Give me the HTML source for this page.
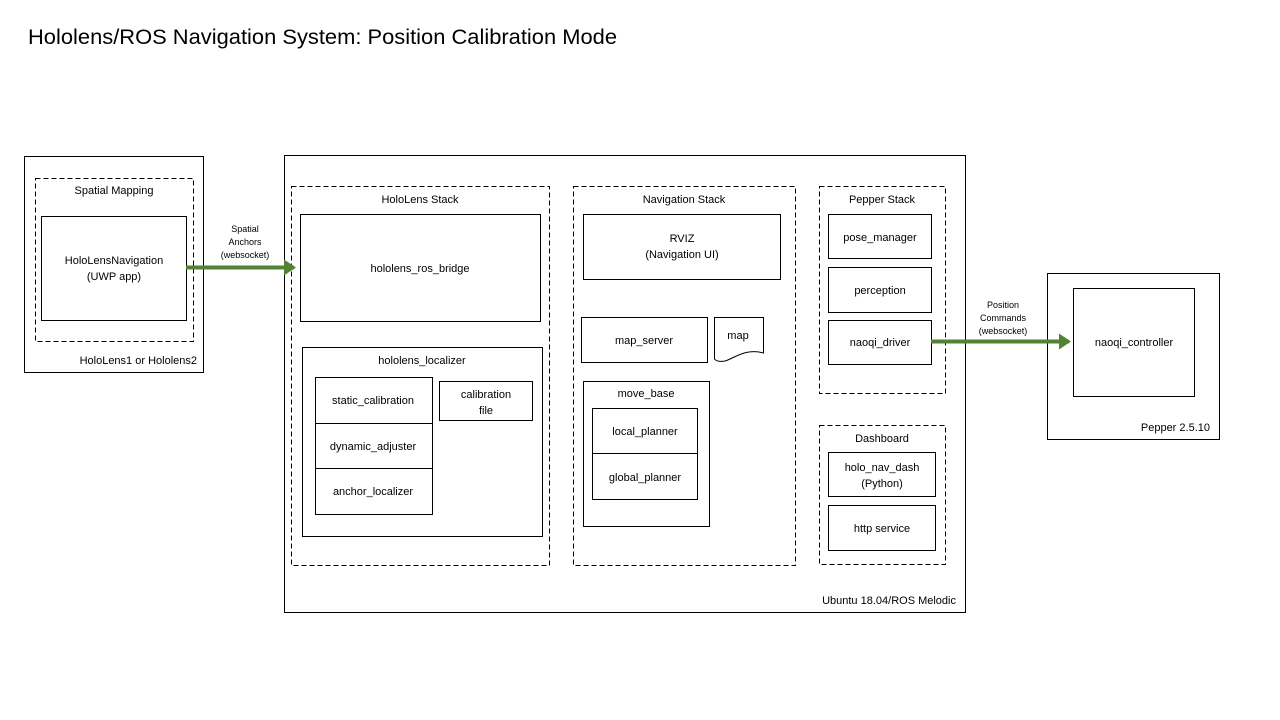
<!DOCTYPE html>
<html><head><meta charset="utf-8"><style>
html,body{margin:0;padding:0;background:#fff;}
svg{display:block;font-family:"Liberation Sans",sans-serif;}
text{font-size:11px;fill:#000;}
</style></head><body>
<svg width="1280" height="720" viewBox="0 0 1280 720">
<defs><marker id="ah" markerWidth="4" markerHeight="4" refX="2.5" refY="2" orient="auto" markerUnits="strokeWidth"><path d="M0,0 L3,2 L0,4 z" fill="#548235"/></marker></defs>
<text x="28" y="44" style="font-size:21px" textLength="589" lengthAdjust="spacingAndGlyphs">Hololens/ROS Navigation System:  Position Calibration Mode</text>
<g fill="none" stroke="#000" stroke-width="1">
<rect x="24.5" y="156.5" width="179" height="216"/>
<rect x="35.5" y="178.5" width="158" height="163" stroke-dasharray="5,3"/>
<rect x="41.5" y="216.5" width="145" height="104"/>
<rect x="284.5" y="155.5" width="681" height="457"/>
<rect x="291.5" y="186.5" width="258" height="379" stroke-dasharray="5,3"/>
<rect x="300.5" y="214.5" width="240" height="107"/>
<rect x="302.5" y="347.5" width="240" height="189"/>
<rect x="315.5" y="377.5" width="117" height="46"/>
<rect x="315.5" y="423.5" width="117" height="45"/>
<rect x="315.5" y="468.5" width="117" height="46"/>
<rect x="439.5" y="381.5" width="93" height="39"/>
<rect x="573.5" y="186.5" width="222" height="379" stroke-dasharray="5,3"/>
<rect x="583.5" y="214.5" width="197" height="65"/>
<rect x="581.5" y="317.5" width="126" height="45"/>
<path d="M714.5,317.5 H763.5 V353 C745,348 735,358 725,361 C720,362 716,361 714.5,359 Z"/>
<rect x="583.5" y="381.5" width="126" height="145"/>
<rect x="592.5" y="408.5" width="105" height="45"/>
<rect x="592.5" y="453.5" width="105" height="46"/>
<rect x="819.5" y="186.5" width="126" height="207" stroke-dasharray="5,3"/>
<rect x="828.5" y="214.5" width="103" height="44"/>
<rect x="828.5" y="267.5" width="103" height="45"/>
<rect x="828.5" y="320.5" width="103" height="44"/>
<rect x="819.5" y="425.5" width="126" height="139" stroke-dasharray="5,3"/>
<rect x="828.5" y="452.5" width="107" height="44"/>
<rect x="828.5" y="505.5" width="107" height="45"/>
<rect x="1047.5" y="273.5" width="172" height="166"/>
<rect x="1073.5" y="288.5" width="121" height="108"/>
</g>
<g stroke="#548235" stroke-width="4" fill="none">
<line x1="186" y1="267.5" x2="294" y2="267.5" marker-end="url(#ah)"/>
<line x1="931" y1="341.5" x2="1069" y2="341.5" marker-end="url(#ah)"/>
</g>
<g text-anchor="middle">
<text x="114" y="194">Spatial Mapping</text>
<text x="114" y="264">HoloLensNavigation</text>
<text x="114" y="280">(UWP app)</text>
<text x="245" y="232" style="font-size:9px">Spatial</text>
<text x="245" y="245" style="font-size:9px">Anchors</text>
<text x="245" y="258" style="font-size:9px">(websocket)</text>
<text x="420" y="203">HoloLens Stack</text>
<text x="420" y="272">hololens_ros_bridge</text>
<text x="422" y="364">hololens_localizer</text>
<text x="373" y="404">static_calibration</text>
<text x="373" y="450">dynamic_adjuster</text>
<text x="373" y="495">anchor_localizer</text>
<text x="486" y="398">calibration</text>
<text x="486" y="414">file</text>
<text x="684" y="203">Navigation Stack</text>
<text x="682" y="242">RVIZ</text>
<text x="682" y="258">(Navigation UI)</text>
<text x="644" y="344">map_server</text>
<text x="738" y="339">map</text>
<text x="646" y="397">move_base</text>
<text x="645" y="435">local_planner</text>
<text x="645" y="481">global_planner</text>
<text x="882" y="203">Pepper Stack</text>
<text x="880" y="241">pose_manager</text>
<text x="880" y="294">perception</text>
<text x="880" y="346">naoqi_driver</text>
<text x="882" y="442">Dashboard</text>
<text x="882" y="471">holo_nav_dash</text>
<text x="882" y="487">(Python)</text>
<text x="882" y="532">http service</text>
<text x="1003" y="308" style="font-size:9px">Position</text>
<text x="1003" y="321" style="font-size:9px">Commands</text>
<text x="1003" y="334" style="font-size:9px">(websocket)</text>
<text x="1134" y="346">naoqi_controller</text>
</g>
<g text-anchor="end">
<text x="197" y="364">HoloLens1 or Hololens2</text>
<text x="956" y="604">Ubuntu 18.04/ROS Melodic</text>
<text x="1210" y="431">Pepper 2.5.10</text>
</g>
</svg>
</body></html>
